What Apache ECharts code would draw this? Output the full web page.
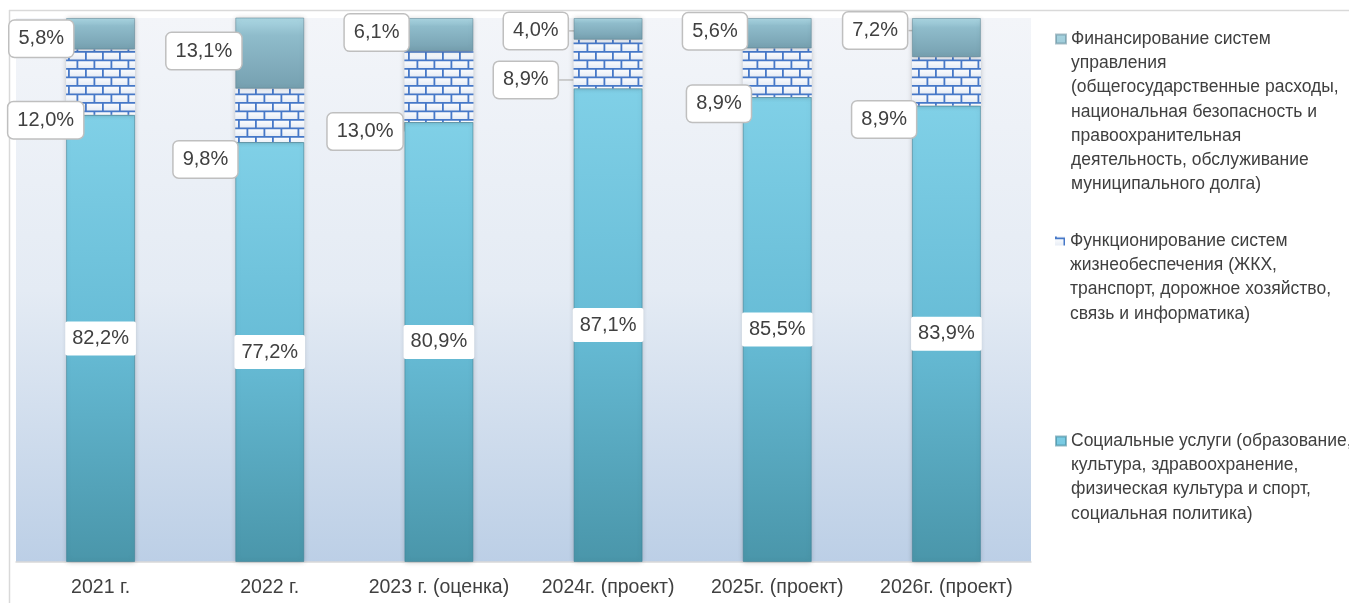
<!DOCTYPE html>
<html>
<head>
<meta charset="utf-8">
<script src="https://cdn.jsdelivr.net/npm/echarts@6/dist/echarts.min.js"></script>
<style>
html,body{margin:0;padding:0;background:#fff;}
#main{width:1349px;height:603px;}
</style>
</head>
<body>
<div id="main"></div>
<script>
// ---- data ----
const categories = ['2021 г.', '2022 г.', '2023 г. (оценка)', '2024г. (проект)', '2025г. (проект)', '2026г. (проект)'];
const seriesNames = [
  'Социальные услуги (образование,\nкультура, здравоохранение,\nфизическая культура и спорт,\nсоциальная политика)',
  'Функционирование систем\nжизнеобеспечения (ЖКХ,\nтранспорт, дорожное хозяйство,\nсвязь и информатика)',
  'Финансирование систем\nуправления\n(общегосударственные расходы,\nнациональная безопасность и\nправоохранительная\nдеятельность, обслуживание\nмуниципального долга)'
];
const socialValues = [82.2, 77.2, 80.9, 87.1, 85.5, 83.9];
const lifeValues = [12.0, 9.8, 13.0, 8.9, 8.9, 8.9];
const govValues = [5.8, 13.1, 6.1, 4.0, 5.6, 7.2];

// ---- label placement (style, not data) ----
const govLabelDx = [7, 6, 4, -6, 4, -5];
const govLabelDy = [5, -2, -2, 2, -2, -7];
const lifeLabelDx = [17, 2, -2, -16, 8, 4];
const lifeLabelDy = [38, 44, 45, 16, 31, 38];

const FONT = "'Liberation Sans', Arial, sans-serif";
const fmt = v => v.toFixed(1).replace('.', ',') + '%';

// brick pattern
function brickPattern() {
  const w = 34, h = 17, rh = h / 2;
  const c = document.createElement('canvas');
  c.width = w; c.height = h;
  const g = c.getContext('2d');
  for (let r = 0; r < 2; r++) {
    const grd = g.createLinearGradient(0, r * rh, 0, (r + 1) * rh);
    grd.addColorStop(0, '#ffffff');
    grd.addColorStop(1, '#e6ecf5');
    g.fillStyle = grd;
    g.fillRect(0, r * rh, w, rh);
  }
  g.strokeStyle = '#4678c8';
  g.lineWidth = 1.8;
  g.beginPath();
  g.moveTo(0, 0.9); g.lineTo(w, 0.9);
  g.moveTo(0, rh + 0.9); g.lineTo(w, rh + 0.9);
  g.moveTo(0.9, 0); g.lineTo(0.9, rh + 0.9);
  g.moveTo(w / 2 + 0.9, 0); g.lineTo(w / 2 + 0.9, rh + 0.9);
  g.moveTo(w / 4 + 0.9, rh + 0.9); g.lineTo(w / 4 + 0.9, h);
  g.moveTo(3 * w / 4 + 0.9, rh + 0.9); g.lineTo(3 * w / 4 + 0.9, h);
  g.stroke();
  return c;
}

function legendIcon(nLines, lh) {
  const H = (nLines * lh).toFixed(1);
  const c = lh / 2;
  return 'path://M0,' + (c - 4.5) + ' L10,' + (c - 4.5) + ' L10,' + (c + 4.5) + ' L0,' + (c + 4.5) + ' Z M0,0 M0,' + H;
}

const LH = 24.2;
const legendText = { color: '#404040', fontSize: 17.5, lineHeight: LH, fontFamily: FONT };
function mkLegend(name, nLines, top) {
  return {
    data: [name], left: 1055, top: top, padding: 0, orient: 'vertical',
    itemWidth: 10, itemHeight: nLines * LH,
    icon: legendIcon(nLines, LH),
    textStyle: legendText
  };
}

const calloutLabel = {
  show: true,
  formatter: p => fmt(p.value),
  fontSize: 20, fontFamily: FONT, color: '#404040',
  backgroundColor: '#ffffff', borderColor: '#bfbfbf', borderWidth: 1.5, borderRadius: 5,
  padding: [8, 9]
};

const chart = echarts.init(document.getElementById('main'));
chart.setOption({
  animation: false,
  backgroundColor: '#ffffff',
  graphic: [
    { type: 'line', shape: { x1: 9, y1: 10.5, x2: 1349, y2: 10.5 }, style: { stroke: '#d9d9d9', lineWidth: 1.5 }, z: -1 },
    { type: 'line', shape: { x1: 9.5, y1: 10, x2: 9.5, y2: 603 }, style: { stroke: '#d9d9d9', lineWidth: 1.5 }, z: -1 }
  ],
  grid: {
    left: 16, right: 318, top: 18, bottom: 41, show: true, borderWidth: 0,
    backgroundColor: {
      type: 'linear', x: 0, y: 0, x2: 0, y2: 1,
      colorStops: [
        { offset: 0, color: '#f3f5f9' },
        { offset: 0.5, color: '#e4ebf4' },
        { offset: 1, color: '#bccfe6' }
      ]
    }
  },
  legend: [
    mkLegend(seriesNames[2], 7, 26),
    mkLegend(seriesNames[1], 4, 229),
    mkLegend(seriesNames[0], 4, 428)
  ],
  xAxis: {
    type: 'category', data: categories,
    axisLine: { lineStyle: { color: '#d9d9d9', width: 1.5 } },
    axisTick: { show: false },
    axisLabel: { color: '#404040', fontSize: 19.5, fontFamily: FONT, margin: 16, interval: 0 }
  },
  yAxis: { type: 'value', min: 0, max: 100, show: false, splitLine: { show: false } },
  series: [
    {
      name: seriesNames[0], type: 'bar', stack: 'all', data: socialValues, barWidth: 69,
      itemStyle: {
        color: {
          type: 'linear', x: 0, y: 0, x2: 0, y2: 1,
          colorStops: [{ offset: 0, color: '#80d0e7' }, { offset: 0.5, color: '#67bcd6' }, { offset: 1, color: '#4a96aa' }]
        },
        borderColor: 'rgba(60,130,150,0.55)', borderWidth: 1,
        shadowBlur: 5, shadowColor: 'rgba(0,0,0,0.22)'
      },
      label: {
        show: true, position: 'inside',
        formatter: p => fmt(p.value),
        fontSize: 20, fontFamily: FONT, color: '#404040',
        backgroundColor: '#ffffff', padding: [7, 7], borderRadius: 2
      }
    },
    {
      name: seriesNames[1], type: 'bar', stack: 'all', data: lifeValues, barWidth: 69,
      itemStyle: {
        color: { image: brickPattern(), repeat: 'repeat' },
        shadowBlur: 5, shadowColor: 'rgba(0,0,0,0.22)'
      },
      label: calloutLabel,
      labelLine: { show: true, lineStyle: { color: '#bfbfbf', width: 1.5 } },
      labelLayout: p => ({
        x: p.rect.x + lifeLabelDx[p.dataIndex],
        y: p.rect.y + p.rect.height / 2 + lifeLabelDy[p.dataIndex],
        align: 'right', verticalAlign: 'middle'
      })
    },
    {
      name: seriesNames[2], type: 'bar', stack: 'all', data: govValues, barWidth: 69,
      itemStyle: {
        color: {
          type: 'linear', x: 0, y: 0, x2: 0, y2: 1,
          colorStops: [{ offset: 0, color: '#acd8e4' }, { offset: 0.25, color: '#8fbccb' }, { offset: 1, color: '#76a0b0' }]
        },
        borderColor: 'rgba(90,130,145,0.5)', borderWidth: 1,
        shadowBlur: 5, shadowColor: 'rgba(0,0,0,0.22)'
      },
      label: calloutLabel,
      labelLine: { show: true, lineStyle: { color: '#bfbfbf', width: 1.5 } },
      labelLayout: p => ({
        x: p.rect.x + govLabelDx[p.dataIndex],
        y: p.rect.y + p.rect.height / 2 + govLabelDy[p.dataIndex],
        align: 'right', verticalAlign: 'middle'
      })
    }
  ]
});
</script>
</body>
</html>
